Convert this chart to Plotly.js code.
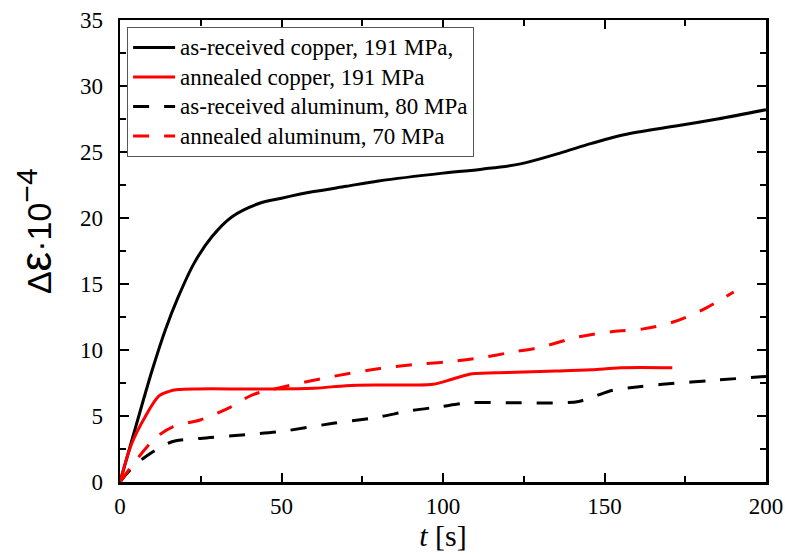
<!DOCTYPE html>
<html>
<head>
<meta charset="utf-8">
<script src="https://cdn.plot.ly/plotly-3.0.1.min.js"></script>
<style>
  html, body { margin: 0; padding: 0; background: #fff; }
  #chart { width: 785px; height: 555px; }
</style>
</head>
<body>
<div id="chart"></div>
<script>
// Time axis [s] and strain increment (×10^-4) for each specimen
const tAsCu = [0, 5, 10, 14, 18, 23, 28.5, 34.7, 43, 50, 60, 70, 80, 100, 112, 124, 136, 146, 156, 173, 185, 200];
const vAsCu = [0, 4.3, 8.5, 11.5, 14.0, 16.6, 18.6, 20.1, 21.1, 21.5, 22.0, 22.4, 22.8, 23.4, 23.7, 24.1, 24.9, 25.65, 26.3, 27.0, 27.5, 28.2];

const tAnCu = [0, 3.7, 7.8, 12, 15, 18, 24, 43, 60, 70, 80, 90, 97, 103, 109, 120, 135, 146, 155, 171];
const vAnCu = [0, 2.95, 4.95, 6.5, 6.85, 7.0, 7.05, 7.05, 7.1, 7.3, 7.35, 7.35, 7.4, 7.8, 8.2, 8.3, 8.4, 8.5, 8.65, 8.65];

const tAsAl = [0, 2.7, 7.8, 16.1, 24.8, 40, 50.5, 66, 79.5, 90, 99, 108, 120, 137, 142, 147, 152.6, 160, 168, 183.6, 200];
const vAsAl = [0, 0.8, 1.9, 3.05, 3.3, 3.6, 3.85, 4.45, 4.9, 5.4, 5.7, 6.0, 6.0, 6.0, 6.1, 6.5, 6.95, 7.2, 7.4, 7.7, 8.0];

const tAnAl = [0, 5.8, 11.3, 16.5, 24.8, 33.6, 41, 50.5, 66, 80.5, 91, 101, 111.5, 121.7, 130, 142, 152.6, 162, 171, 180, 190];
const vAnAl = [0, 1.9, 3.4, 4.2, 4.7, 5.6, 6.6, 7.2, 8.0, 8.6, 8.9, 9.1, 9.4, 9.85, 10.2, 11.0, 11.4, 11.6, 12.1, 13.0, 14.4];

const seriesNames = [
  'as-received copper, 191 MPa,',
  'annealed copper, 191 MPa',
  'as-received aluminum, 80 MPa',
  'annealed aluminum, 70 MPa'
];

const xTicks = [0, 50, 100, 150, 200];
const yTicks = [0, 5, 10, 15, 20, 25, 30, 35];

const DASH = '16px,15px';

function curve(x, y, name, color, dash, group) {
  return {
    x: x, y: y, type: 'scatter', mode: 'lines',
    name: '<span style="font-size:23px">' + name + '</span>',
    legendgroup: group,
    line: { color: color, width: 3, dash: dash, shape: 'spline', smoothing: 0.9 },
    hoverinfo: 'skip'
  };
}

const data = [
  curve(tAsCu, vAsCu, seriesNames[0], '#000000', 'solid', 'g1'),
  curve(tAnCu, vAnCu, seriesNames[1], '#ff0000', 'solid', 'g2'),
  curve(tAsAl, vAsAl, seriesNames[2], '#000000', DASH, 'g3'),
  curve(tAnAl, vAnAl, seriesNames[3], '#ff0000', DASH, 'g4')
];

const serif = 'Liberation Serif';
const sans = 'Liberation Sans';

const axisCommon = {
  showgrid: false,
  zeroline: false,
  showline: true,
  linecolor: '#000',
  linewidth: 2.5,
  mirror: 'ticks',
  ticks: 'inside',
  ticklen: 9,
  tickwidth: 2,
  tickcolor: '#000',
  tickfont: { family: serif, size: 23, color: '#000' },
  minor: { ticks: 'inside', ticklen: 6, tickwidth: 2, tickcolor: '#000', showgrid: false }
};

const layout = {
  width: 785,
  height: 555,
  margin: { l: 120, r: 19, t: 20, b: 73 },
  paper_bgcolor: '#fff',
  plot_bgcolor: '#fff',
  showlegend: true,
  xaxis: Object.assign({}, axisCommon, {
    range: [0, 200],
    tickmode: 'array',
    tickvals: xTicks,
    ticklabelstandoff: 2,
    minor: Object.assign({}, axisCommon.minor, { tickmode: 'array', tickvals: [25, 75, 125, 175] }),
    title: { text: '<i>t</i> [s]', font: { family: serif, size: 30, color: '#000' }, standoff: 0 }
  }),
  yaxis: Object.assign({}, axisCommon, {
    range: [0, 35],
    tickmode: 'array',
    tickvals: yTicks,
    ticklabelstandoff: 10,
    minor: Object.assign({}, axisCommon.minor, { tickmode: 'array', tickvals: [2.5, 7.5, 12.5, 17.5, 22.5, 27.5, 32.5] })
  }),
  // vertical axis label: Δε·10^−4
  annotations: [{
    xref: 'paper', yref: 'paper',
    x: -0.1316, y: 0.543,
    xanchor: 'center', yanchor: 'middle',
    textangle: -90,
    showarrow: false,
    text: 'Δ<span style="font-size:44px">ε</span>·10<sup><span style="font-size:30px">−4</span></sup>',
    font: { family: sans, size: 34, color: '#000' }
  }],
  legend: {
    x: 0.011, y: 0.985, xanchor: 'left', yanchor: 'top',
    bgcolor: '#fff',
    bordercolor: '#555',
    borderwidth: 1,
    traceorder: 'grouped',
    tracegroupgap: 0.5,
    itemwidth: 42,
    font: { family: serif, size: 20, color: '#000' }
  }
};

Plotly.newPlot('chart', data, layout, { displayModeBar: false, staticPlot: true });
</script>
</body>
</html>
